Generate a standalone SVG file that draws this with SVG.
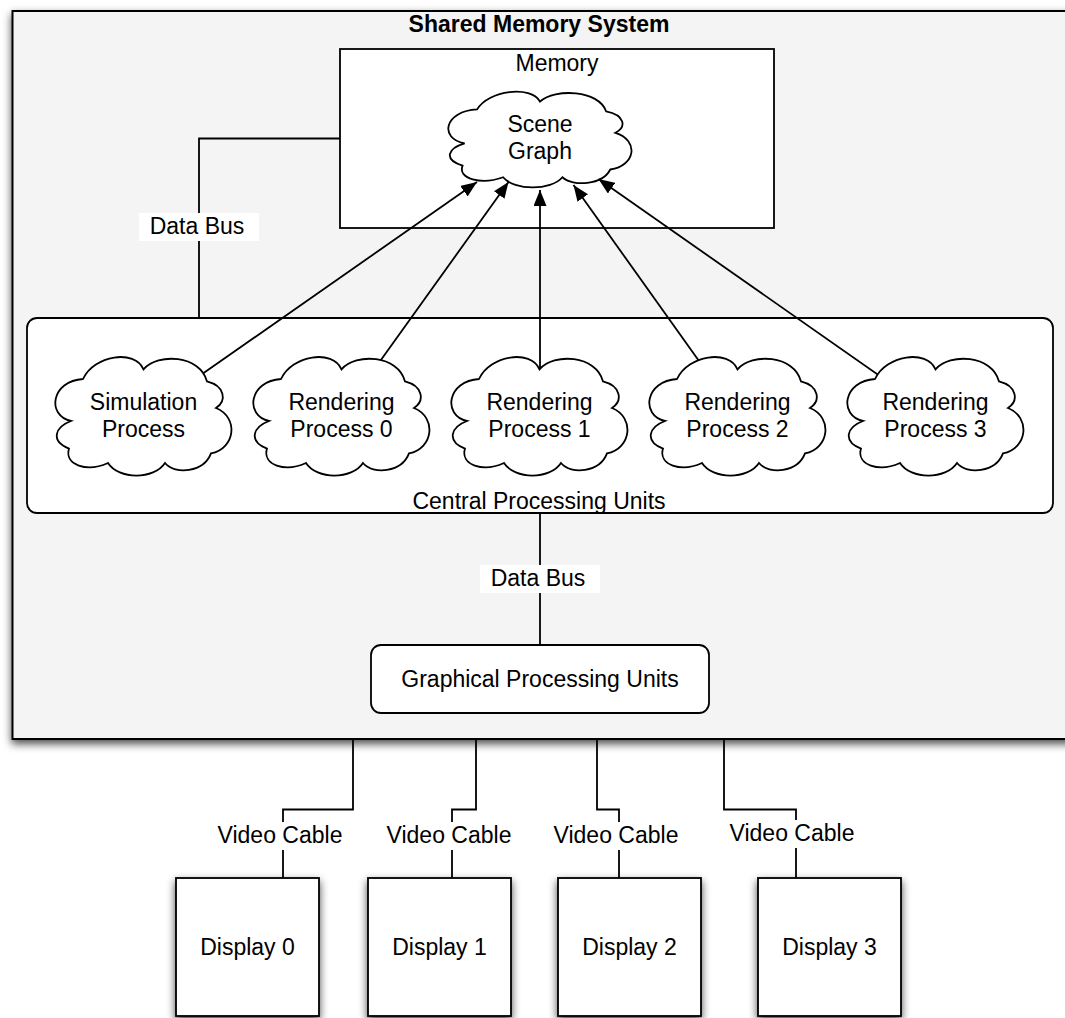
<svg xmlns="http://www.w3.org/2000/svg" xmlns:xlink="http://www.w3.org/1999/xlink" width="1065" height="1018" viewBox="0 0 1065 1018">
<style>
text{font-family:"Liberation Sans",Arial,sans-serif;font-size:23px;fill:#000;text-anchor:middle}
.title{font-weight:bold}
.box{fill:#fff;stroke:#000;stroke-width:1.8}
.cloud{fill:#fff;stroke:#000;stroke-width:1.8;vector-effect:non-scaling-stroke}
.ln{fill:none;stroke:#000;stroke-width:1.8}
.lbl{fill:#fff;stroke:none}
</style>
<defs>
<filter id="sh" x="-10%" y="-10%" width="120%" height="130%">
<feDropShadow dx="0" dy="4" stdDeviation="4.5" flood-color="#000" flood-opacity="0.7"/>
</filter>
<marker id="ah" markerUnits="userSpaceOnUse" markerWidth="18" markerHeight="13" refX="16" refY="6.5" orient="auto">
<path d="M0,0 L16,6.5 L0,13 z" fill="#000"/>
</marker>
<path id="cl" class="cloud" d="M16,66 C-9,60 -3.5,26 28,24 C39,0 80,-6 88.5,14.4 C103,-2.4 145,0 152,26.4 C170,31 172,45.6 161,53 C184,62.4 180.5,93.6 156,98.4 C148.7,117.6 120,120 110,108 C99,124.8 63.7,124.8 53,108 C32,117.6 9,110 14,93.6 C-5,86 0,72 16,66 Z"/>
</defs>

<g id="shared-memory-system">
<rect x="12.5" y="11" width="1075" height="728" fill="#f4f4f4" stroke="#000" stroke-width="2" filter="url(#sh)"/>
<text class="title" x="539" y="32">Shared Memory System</text>
</g>

<g id="memory">
<rect class="box" x="340" y="49" width="434" height="179"/>
<text x="557" y="71">Memory</text>
</g>

<g id="scene-graph">
<use xlink:href="#cl" href="#cl" transform="translate(448,90) scale(1.04,0.808)"/>
<text x="540" y="132">Scene</text>
<text x="540" y="159">Graph</text>
</g>

<g id="cpu">
<rect class="box" x="27" y="318" width="1026" height="195" rx="10"/>
<text x="539" y="509">Central Processing Units</text>
</g>

<g id="gpu">
<rect class="box" x="371" y="645" width="338" height="68" rx="10"/>
<text x="540" y="687">Graphical Processing Units</text>
</g>

<g id="connectors">
<polyline class="ln" points="340,138.5 199,138.5 199,318"/>
<rect class="lbl" x="139" y="213" width="120" height="28"/>
<text x="197" y="234">Data Bus</text>

<line class="ln" x1="540" y1="513" x2="540" y2="645"/>
<rect class="lbl" x="480" y="565" width="120" height="28"/>
<text x="538" y="586">Data Bus</text>

<line class="ln" x1="143.5" y1="415" x2="477" y2="182" marker-end="url(#ah)"/>
<line class="ln" x1="341.5" y1="415" x2="508.5" y2="182" marker-end="url(#ah)"/>
<line class="ln" x1="540" y1="415" x2="540" y2="190" marker-end="url(#ah)"/>
<line class="ln" x1="737.5" y1="415" x2="573.5" y2="185" marker-end="url(#ah)"/>
<line class="ln" x1="935.5" y1="415" x2="598.5" y2="179" marker-end="url(#ah)"/>

<polyline class="ln" points="353,739 353,809.5 283,809.5 283,878"/>
<polyline class="ln" points="476,739 476,809.5 452,809.5 452,878"/>
<polyline class="ln" points="597,739 597,809.5 619,809.5 619,878"/>
<polyline class="ln" points="724,739 724,809.5 796,809.5 796,878"/>
<rect class="lbl" x="210" y="822" width="146" height="28"/>
<text x="280" y="843">Video Cable</text>
<rect class="lbl" x="379" y="822" width="146" height="28"/>
<text x="449" y="843">Video Cable</text>
<rect class="lbl" x="546" y="822" width="146" height="28"/>
<text x="616" y="843">Video Cable</text>
<rect class="lbl" x="723" y="820" width="146" height="28"/>
<text x="792" y="841">Video Cable</text>
</g>

<g id="simulation-process">
<use xlink:href="#cl" href="#cl" transform="translate(55,355)"/>
<text x="143.5" y="410">Simulation</text>
<text x="143.5" y="437">Process</text>
</g>
<g id="rendering-process-0">
<use xlink:href="#cl" href="#cl" transform="translate(253,355)"/>
<text x="341.5" y="410">Rendering</text>
<text x="341.5" y="437">Process 0</text>
</g>
<g id="rendering-process-1">
<use xlink:href="#cl" href="#cl" transform="translate(451,355)"/>
<text x="539.5" y="410">Rendering</text>
<text x="539.5" y="437">Process 1</text>
</g>
<g id="rendering-process-2">
<use xlink:href="#cl" href="#cl" transform="translate(649,355)"/>
<text x="737.5" y="410">Rendering</text>
<text x="737.5" y="437">Process 2</text>
</g>
<g id="rendering-process-3">
<use xlink:href="#cl" href="#cl" transform="translate(847,355)"/>
<text x="935.5" y="410">Rendering</text>
<text x="935.5" y="437">Process 3</text>
</g>

<g id="display-0">
<rect class="box" x="176" y="878" width="143" height="138" filter="url(#sh)"/>
<text x="247.5" y="955">Display 0</text>
</g>
<g id="display-1">
<rect class="box" x="368" y="878" width="143" height="138" filter="url(#sh)"/>
<text x="439.5" y="955">Display 1</text>
</g>
<g id="display-2">
<rect class="box" x="558" y="878" width="143" height="138" filter="url(#sh)"/>
<text x="629.5" y="955">Display 2</text>
</g>
<g id="display-3">
<rect class="box" x="758" y="878" width="143" height="138" filter="url(#sh)"/>
<text x="829.5" y="955">Display 3</text>
</g>
</svg>
